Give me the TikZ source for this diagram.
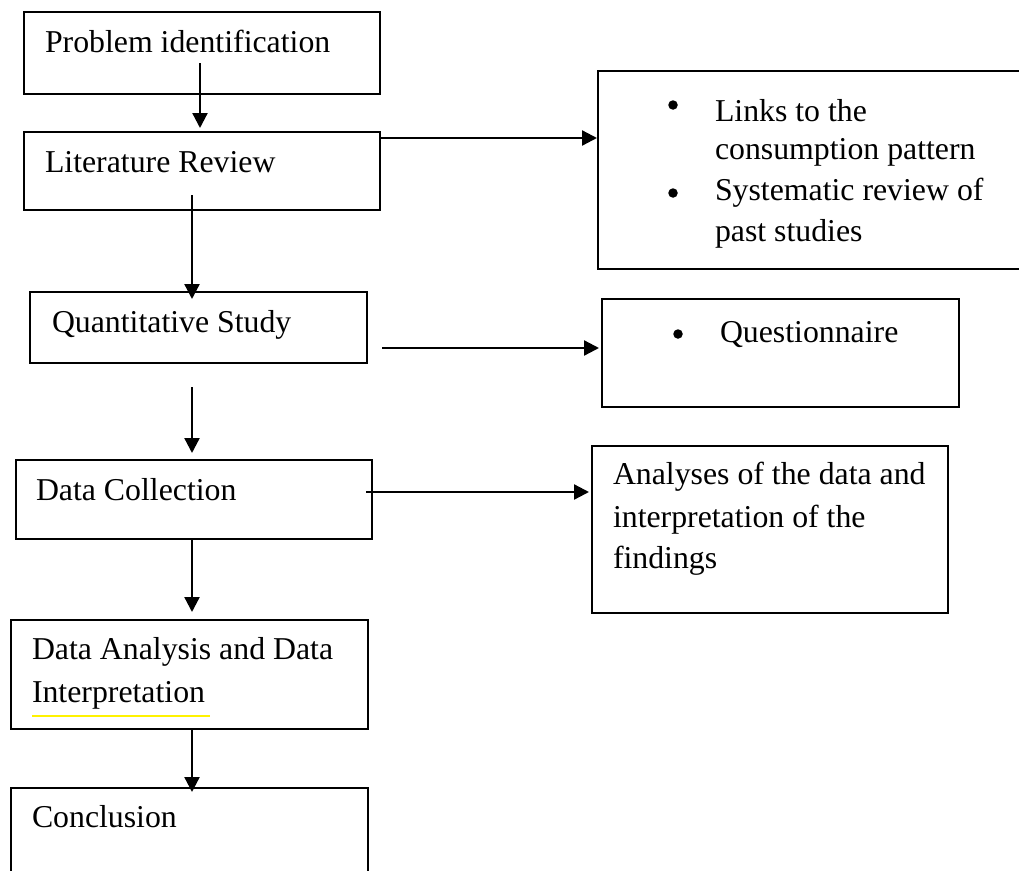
\documentclass[tikz,border=0pt]{standalone}
\usepackage{fontspec}
\setmainfont{Liberation Serif}
\usetikzlibrary{arrows.meta}
\begin{document}
\begin{tikzpicture}[x=1pt,y=-1pt,
  box/.style={draw=black,line width=1.8pt,rectangle,inner sep=0pt,outer sep=0pt},
  txt/.style={inner sep=0pt,outer sep=0pt,anchor=base west,font=\fontsize{31.8}{40}\selectfont},
  bul/.style={circle,fill=black,inner sep=0pt,minimum size=9.5pt},
  arr/.style={line width=2.3pt,-{Triangle[length=15pt,width=15pt]}}]
\clip (0,0) rectangle (1019,870);
\fill[white] (0,0) rectangle (1019,870);
% left column boxes
\node[box,minimum width=356pt,minimum height=82pt] (b1) at (202,53) {};
\node[box,minimum width=356pt,minimum height=78pt] (b2) at (202,171) {};
\node[box,minimum width=337pt,minimum height=71pt] (b3) at (198.5,327.5) {};
\node[box,minimum width=356pt,minimum height=79pt] (b4) at (194,499.5) {};
\node[box,minimum width=357pt,minimum height=109pt] (b5) at (189.5,674.5) {};
\node[box,minimum width=357pt,minimum height=112pt] (b6) at (189.5,844) {};
% right column boxes
\node[box,minimum width=432pt,minimum height=198pt] (links) at (814,170) {};
\node[box,minimum width=357pt,minimum height=108pt] (quest) at (780.5,353) {};
\node[box,minimum width=356pt,minimum height=167pt] (anal) at (770,529.5) {};
% texts
\node[txt] (t1) at (45,52) {Problem identification};
\node[txt] (t2) at (45,172) {Literature Review};
\node[txt] (t3) at (52,332) {Quantitative Study};
\node[txt] (t4) at (36,500) {Data Collection};
\node[txt] (t5a) at (32,659) {Data Analysis and Data};
\node[txt] (t5b) at (32,702) {Interpretation};
\node[txt] (t6) at (32,827) {Conclusion};
\draw[yellow,line width=2pt] (t5b.base west) ++(0,14) coordinate (ul1) -- ++(178,0) coordinate (ul2);
\node[bul] (bl1) at (673,105) {};
\node[txt] (l1) at (715,121) {Links to the};
\node[txt] (l2) at (715,159) {consumption pattern};
\node[bul] (bl2) at (673,193) {};
\node[txt] (l3) at (715,200) {Systematic review of};
\node[txt] (l4) at (715,241) {past studies};
\node[bul] (bl3) at (678,334) {};
\node[txt] (q1) at (720,342) {Questionnaire};
\node[txt] (a1) at (613,484) {Analyses of the data and};
\node[txt] (a2) at (613,527) {interpretation of the};
\node[txt] (a3) at (613,568) {findings};
% vertical connectors
\coordinate (v1) at (200,63);
\draw[arr,shorten >=4pt] (v1) -- (v1 |- b2.north);
\coordinate (v2) at (192,195);
\draw[arr,shorten >=-7pt] (v2) -- (v2 |- b3.north);
\coordinate (v3) at (192,387);
\draw[arr,shorten >=7pt] (v3) -- (v3 |- b4.north);
\coordinate (v4) at (192,539);
\draw[arr,shorten >=8pt] (v4) -- (v4 |- b5.north);
\coordinate (v5) at (192,729);
\draw[arr,shorten >=-4pt] (v5) -- (v5 |- b6.north);
% horizontal connectors
\coordinate (h1) at (380,138);
\draw[arr,shorten >=1pt] (h1) -- (h1 -| links.west);
\coordinate (h2) at (382,348);
\draw[arr,shorten >=3pt] (h2) -- (h2 -| quest.west);
\coordinate (h3) at (366,492);
\draw[arr,shorten >=3pt] (h3) -- (h3 -| anal.west);
\end{tikzpicture}
\end{document}
